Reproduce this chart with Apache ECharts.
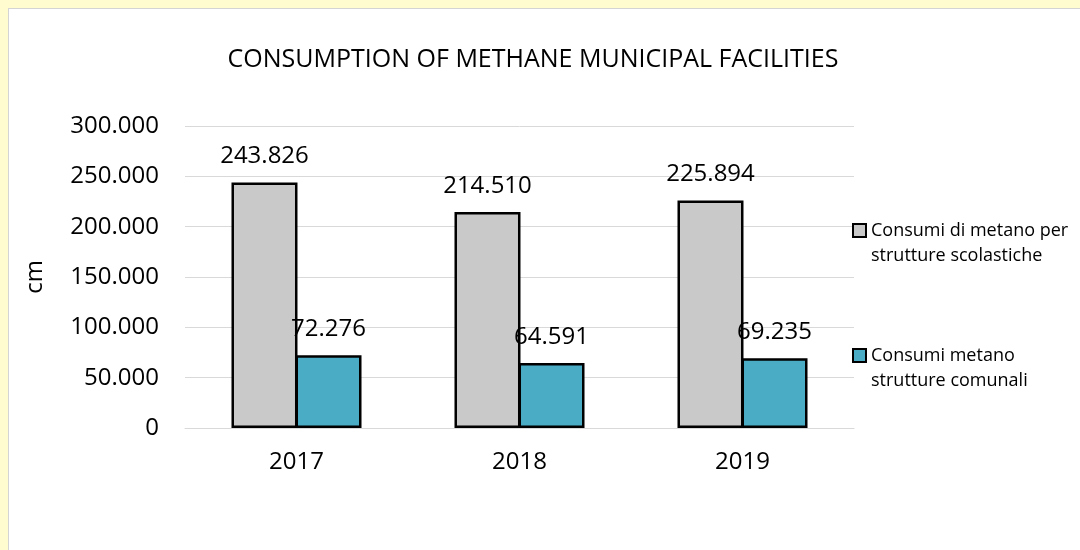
<!DOCTYPE html>
<html>
<head>
<meta charset="utf-8">
<script src="https://cdn.jsdelivr.net/npm/echarts@6/dist/echarts.min.js"></script>
<style>
	html, body { margin: 0; padding: 0; width: 1080px; height: 550px; overflow: hidden; background: #FFFDD0; }
	#panel { position: absolute; left: 8px; top: 8px; width: 1080px; height: 550px; background: #fff; border-left: 1px solid #d4d4d4; border-top: 1px solid #d4d4d4; }
	#main { position: absolute; left: 0; top: 0; width: 1080px; height: 550px; }
</style>
</head>
<body>
<div id="panel"></div>
<div id="main"></div>
<script>
	var years = ['2017', '2018', '2019'];
	var scolastiche = [243826, 214510, 225894];
	var comunali = [72276, 64591, 69235];
	var seriesNames = ['Consumi di metano per strutture scolastiche', 'Consumi metano strutture comunali'];
	var legendLines = {
		'Consumi di metano per strutture scolastiche': ['Consumi di metano per', 'strutture scolastiche'],
		'Consumi metano strutture comunali': ['Consumi metano', 'strutture comunali']
	};

	var font = '"Open Sans", sans-serif';

	// Italian style thousands separator: 243.826
	function fmt(v) {
		return String(v).replace(/\B(?=(\d{3})+(?!\d))/g, '.');
	}

	var labelStyle = {
		show: true,
		position: 'top',
		distance: 14,
		color: '#000',
		fontFamily: font,
		fontSize: 24,
		formatter: function(p) { return fmt(p.value); }
	};

	var option = {
		animation: false,
		title: {
			text: 'CONSUMPTION OF METHANE MUNICIPAL FACILITIES',
			left: 528,
			textAlign: 'center',
			top: 42,
			textStyle: { fontFamily: font, fontSize: 25, fontWeight: 'normal', color: '#000' }
		},
		legend: {
			orient: 'vertical',
			left: 847,
			top: 188,
			itemGap: 50,
			itemWidth: 13,
			itemHeight: 13,
			itemStyle: { borderColor: '#000', borderWidth: 2 },
			icon: 'rect',
			data: seriesNames,
			formatter: function(name) {
				var l = legendLines[name];
				return '\n' + l[0] + '\n' + l[1];
			},
			textStyle: { fontFamily: font, fontSize: 18, lineHeight: 25, color: '#000', padding: [0, 0, 0, 0] }
		},
		grid: { left: 185, right: 226, top: 126, bottom: 122 },
		xAxis: {
			type: 'category',
			data: years,
			axisLine: { lineStyle: { color: '#d9d9d9' } },
			axisTick: { show: false },
			axisLabel: { color: '#000', fontFamily: font, fontSize: 24, margin: 22 }
		},
		yAxis: {
			type: 'value',
			min: 0,
			max: 300000,
			interval: 50000,
			name: 'cm',
			nameLocation: 'middle',
			nameRotate: 90,
			nameGap: 138,
			nameTextStyle: { color: '#000', fontFamily: font, fontSize: 24 },
			axisLine: { show: false },
			axisTick: { show: false },
			splitLine: { lineStyle: { color: '#d9d9d9' } },
			axisLabel: { color: '#000', fontFamily: font, fontSize: 24, margin: 26, formatter: fmt }
		},
		series: [
			{
				name: seriesNames[0],
				type: 'bar',
				data: scolastiche,
				barWidth: 66,
				barGap: '-3%',
				itemStyle: { color: '#C9C9C9', borderColor: '#000', borderWidth: 2.5 },
				label: labelStyle
			},
			{
				name: seriesNames[1],
				type: 'bar',
				data: comunali,
				barWidth: 66,
				barGap: '-3%',
				itemStyle: { color: '#4BACC6', borderColor: '#000', borderWidth: 2.5 },
				label: labelStyle
			}
		]
	};

	var chart = echarts.init(document.getElementById('main'));
	chart.setOption(option);
</script>
</body>
</html>
